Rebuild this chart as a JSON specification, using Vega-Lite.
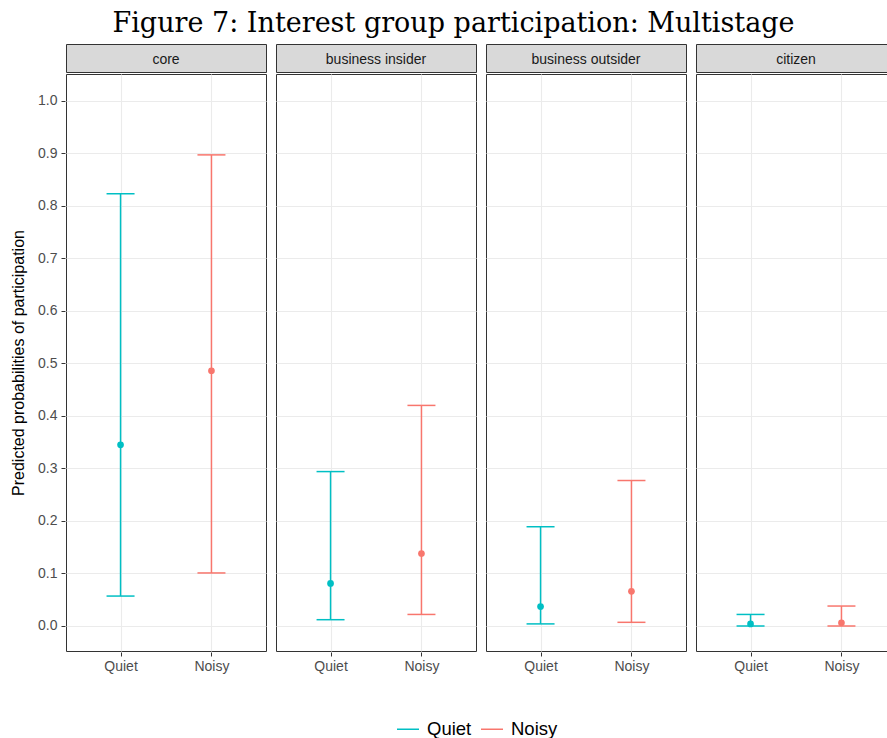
{
  "$schema": "https://vega.github.io/schema/vega-lite/v6.json",
  "padding": {"left": 10, "top": 9, "right": 0, "bottom": 0},
  "background": "white",
  "title": {"text": "Figure 7: Interest group participation: Multistage", "font": "DejaVu Serif", "fontSize": 27, "fontWeight": "normal", "color": "#000000", "anchor": "middle", "offset": 6},
  "data": {"values": [
    {"group": "core", "cond": "Quiet", "est": 0.345, "lo": 0.057, "hi": 0.823},
    {"group": "core", "cond": "Noisy", "est": 0.486, "lo": 0.101, "hi": 0.897},
    {"group": "business insider", "cond": "Quiet", "est": 0.081, "lo": 0.012, "hi": 0.294},
    {"group": "business insider", "cond": "Noisy", "est": 0.138, "lo": 0.022, "hi": 0.420},
    {"group": "business outsider", "cond": "Quiet", "est": 0.037, "lo": 0.004, "hi": 0.189},
    {"group": "business outsider", "cond": "Noisy", "est": 0.066, "lo": 0.007, "hi": 0.277},
    {"group": "citizen", "cond": "Quiet", "est": 0.004, "lo": 0.000, "hi": 0.022},
    {"group": "citizen", "cond": "Noisy", "est": 0.006, "lo": 0.000, "hi": 0.038}
  ]},
  "spacing": 0,
  "vconcat": [
    {
      "transform": [{"aggregate": [{"op": "count", "as": "n"}], "groupby": ["group"]}],
      "facet": {"column": {"field": "group", "type": "nominal", "sort": ["core", "business insider", "business outsider", "citizen"], "header": null}},
      "spacing": 8,
      "spec": {
        "width": 200,
        "height": 28,
        "view": {"fill": "#D9D9D9", "stroke": "#333333", "strokeWidth": 1},
        "mark": {"type": "text", "font": "Liberation Sans", "fontSize": 14, "color": "#1A1A1A", "dy": 2},
        "encoding": {"text": {"field": "group", "type": "nominal"}}
      }
    },
    {
      "facet": {"column": {"field": "group", "type": "nominal", "sort": ["core", "business insider", "business outsider", "citizen"], "header": null}},
      "spacing": 8,
      "spec": {
        "width": 200,
        "height": 577,
        "encoding": {
          "x": {"field": "cond", "type": "nominal", "sort": ["Quiet", "Noisy"], "scale": {"type": "point", "padding": 0.6},
            "axis": {"title": null, "labelAngle": 0, "domain": false, "tickColor": "#333333", "tickSize": 4, "labelColor": "#4D4D4D", "labelFont": "Liberation Sans", "labelFontSize": 14, "labelPadding": 3, "grid": true, "gridColor": "#EBEBEB", "gridWidth": 1.1}},
          "color": {"field": "cond", "type": "nominal", "scale": {"domain": ["Quiet", "Noisy"], "range": ["#00BFC4", "#F8766D"]},
            "legend": {"title": null, "orient": "none", "legendX": 330, "legendY": 673, "direction": "horizontal", "symbolType": "stroke", "symbolStrokeWidth": 1.5, "symbolSize": 484, "labelFontSize": 18.5, "labelFont": "Liberation Sans", "labelColor": "#000000", "columnPadding": 6, "labelOffset": 7}}
        },
        "layer": [
          {"mark": {"type": "rule", "strokeWidth": 1.5},
           "encoding": {
             "y": {"field": "lo", "type": "quantitative", "scale": {"domain": [-0.0476, 1.051], "nice": false, "zero": false},
               "axis": {"title": "Predicted probabilities of participation", "titleFont": "Liberation Sans", "titleFontSize": 16, "titleFontWeight": "normal", "titleColor": "#000000", "titlePadding": 11,
                 "values": [0, 0.05, 0.1, 0.15, 0.2, 0.25, 0.3, 0.35, 0.4, 0.45, 0.5, 0.55, 0.6, 0.65, 0.7, 0.75, 0.8, 0.85, 0.9, 0.95, 1.0],
                 "labelExpr": "round(datum.value*100) % 10 == 0 ? format(datum.value, '.1f') : ''",
                 "domain": false, "labelColor": "#4D4D4D", "labelFont": "Liberation Sans", "labelFontSize": 14, "labelPadding": 4,
                 "tickColor": "#333333", "tickSize": 4,
                 "tickOpacity": {"condition": {"test": "round(datum.value*100) % 10 != 0", "value": 0}, "value": 1},
                 "grid": true,
                 "gridColor": {"condition": {"test": "round(datum.value*100) % 10 != 0", "value": "#F5F5F5"}, "value": "#EBEBEB"},
                 "gridWidth": {"condition": {"test": "round(datum.value*100) % 10 != 0", "value": 0.6}, "value": 1.1}}},
             "y2": {"field": "hi"}
           }},
          {"mark": {"type": "tick", "size": 28, "thickness": 1.5},
           "encoding": {"y": {"field": "hi", "type": "quantitative"}}},
          {"mark": {"type": "tick", "size": 28, "thickness": 1.5},
           "encoding": {"y": {"field": "lo", "type": "quantitative"}}},
          {"mark": {"type": "circle", "size": 45, "opacity": 1},
           "encoding": {"y": {"field": "est", "type": "quantitative"}}}
        ]
      }
    }
  ],
  "config": {
    "view": {"stroke": "#333333", "strokeWidth": 1, "fill": "white"},
    "tick": {"opacity": 1}
  }
}
